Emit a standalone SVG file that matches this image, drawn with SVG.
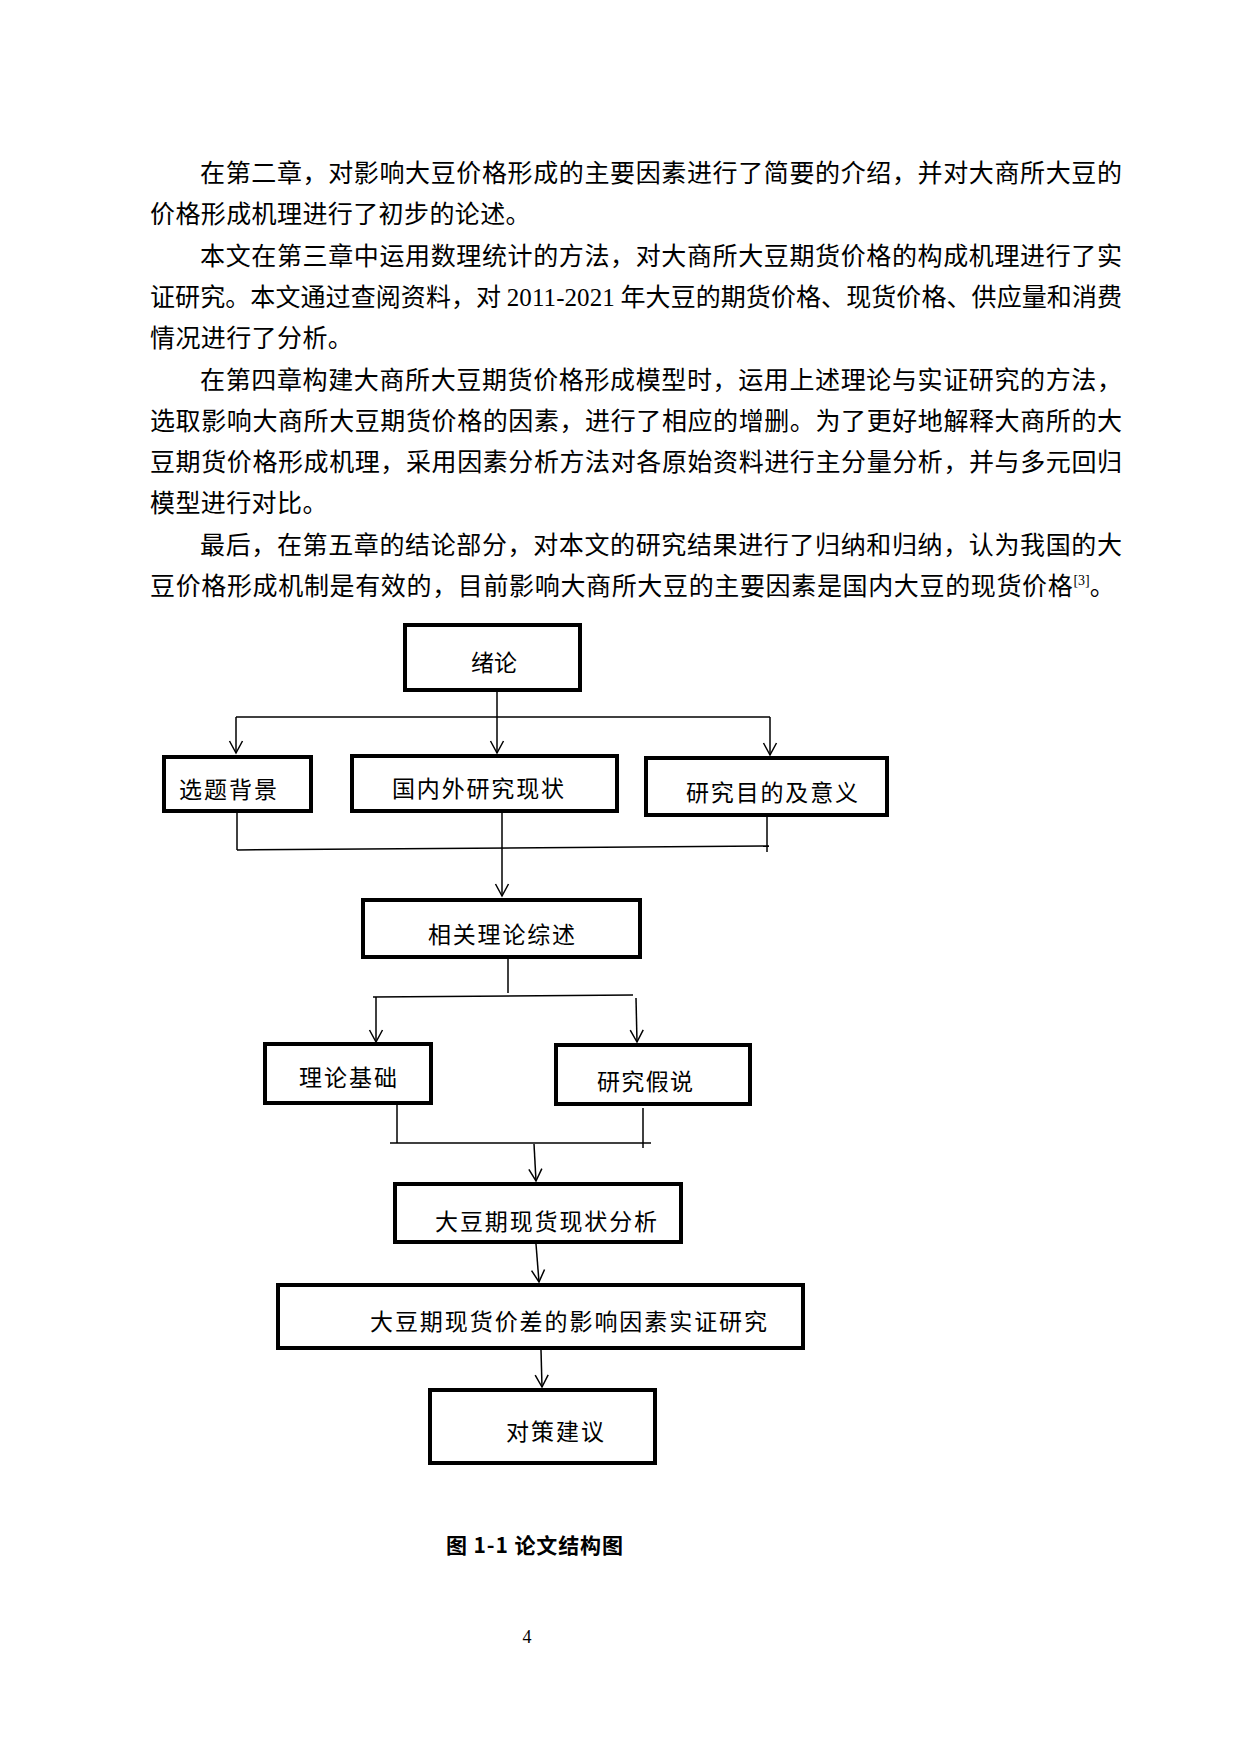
<svg xmlns="http://www.w3.org/2000/svg" width="1240" height="1754" viewBox="0 0 1240 1754">
<style>
.body{font-family:"Liberation Serif","Noto Sans CJK SC",serif;font-size:25px;fill:#000}
.cjk{font-family:"Noto Sans CJK SC","Liberation Serif",serif}
.lat{font-family:"Liberation Serif",serif}
.lbl{font-family:"Noto Sans CJK SC","Liberation Sans",sans-serif;font-size:23px;fill:#000}
.box{fill:#fff;stroke:#000;stroke-width:4}
.conn line,.conn path{stroke:#000;stroke-width:1.5;fill:none}
.cap{font-family:"Noto Sans CJK SC","Liberation Sans",sans-serif;font-size:21px;font-weight:bold;fill:#000}
.pg{font-family:"Liberation Serif",serif;font-size:18px;fill:#000}
</style>
<defs>
<marker id="arr" viewBox="-14 -8 16 16" refX="0" refY="0" markerWidth="16" markerHeight="16" markerUnits="userSpaceOnUse" orient="auto">
<path d="M-12,-6.5 L0,0 L-12,6.5" fill="none" stroke="#000" stroke-width="1.5"/>
</marker>
</defs>
<rect width="1240" height="1754" fill="#fff"/>

<g id="body-text" class="body">
<text class="cjk" x="200" y="182" textLength="922" lengthAdjust="spacing">在第二章，对影响大豆价格形成的主要因素进行了简要的介绍，并对大商所大豆的</text>
<text class="cjk" x="150" y="223" letter-spacing="0.4">价格形成机理进行了初步的论述。</text>
<text class="cjk" x="200" y="265" textLength="922" lengthAdjust="spacing">本文在第三章中运用数理统计的方法，对大商所大豆期货价格的构成机理进行了实</text>
<text x="150" y="306" textLength="972" lengthAdjust="spacing"><tspan class="cjk">证研究。本文通过查阅资料，对 </tspan><tspan class="lat">2011-2021</tspan><tspan class="cjk"> 年大豆的期货价格、现货价格、供应量和消费</tspan></text>
<text class="cjk" x="150" y="347" letter-spacing="0.4">情况进行了分析。</text>
<text class="cjk" x="200" y="389" textLength="922" lengthAdjust="spacing">在第四章构建大商所大豆期货价格形成模型时，运用上述理论与实证研究的方法，</text>
<text class="cjk" x="150" y="430" textLength="972" lengthAdjust="spacing">选取影响大商所大豆期货价格的因素，进行了相应的增删。为了更好地解释大商所的大</text>
<text class="cjk" x="150" y="471" textLength="972" lengthAdjust="spacing">豆期货价格形成机理，采用因素分析方法对各原始资料进行主分量分析，并与多元回归</text>
<text class="cjk" x="150" y="512" letter-spacing="0.4">模型进行对比。</text>
<text class="cjk" x="200" y="554" textLength="922" lengthAdjust="spacing">最后，在第五章的结论部分，对本文的研究结果进行了归纳和归纳，认为我国的大</text>
<text x="150" y="595"><tspan class="cjk" letter-spacing="0.65">豆价格形成机制是有效的，目前影响大商所大豆的主要因素是国内大豆的现货价格</tspan><tspan class="lat" font-size="14" dy="-10">[3]</tspan><tspan class="cjk" dy="10">。</tspan></text>
</g>

<g id="connectors" class="conn">
<line x1="497" y1="692" x2="497" y2="753" marker-end="url(#arr)"/>
<line x1="236" y1="717" x2="770" y2="717"/>
<line x1="236" y1="717" x2="236" y2="753" marker-end="url(#arr)"/>
<line x1="770" y1="717" x2="770" y2="755" marker-end="url(#arr)"/>
<line x1="237" y1="813" x2="237" y2="850"/>
<line x1="767" y1="817" x2="767" y2="852"/>
<line x1="237" y1="850" x2="769" y2="846"/>
<line x1="502" y1="813" x2="502" y2="896" marker-end="url(#arr)"/>
<line x1="508" y1="959" x2="508" y2="993"/>
<line x1="373" y1="997" x2="633" y2="995"/>
<line x1="376" y1="997" x2="376" y2="1042" marker-end="url(#arr)"/>
<line x1="636" y1="998" x2="637" y2="1042" marker-end="url(#arr)"/>
<line x1="397" y1="1105" x2="397" y2="1143"/>
<line x1="643" y1="1108" x2="643" y2="1148"/>
<line x1="390" y1="1143" x2="651" y2="1143"/>
<line x1="534" y1="1144" x2="536" y2="1181" marker-end="url(#arr)"/>
<line x1="536" y1="1244" x2="539" y2="1282" marker-end="url(#arr)"/>
<line x1="541" y1="1350" x2="542" y2="1387" marker-end="url(#arr)"/>
</g>

<g id="n-xulun">
<rect class="box" x="405" y="625" width="175" height="65"/>
<text class="lbl" x="471" y="671" textLength="46" lengthAdjust="spacing">绪论</text>
</g>
<g id="n-beijing">
<rect class="box" x="164" y="757" width="147" height="54"/>
<text class="lbl" x="179" y="798" textLength="98" lengthAdjust="spacing">选题背景</text>
</g>
<g id="n-xianzhuang">
<rect class="box" x="352" y="756" width="265" height="55"/>
<text class="lbl" x="392" y="797" textLength="172" lengthAdjust="spacing">国内外研究现状</text>
</g>
<g id="n-mudi">
<rect class="box" x="646" y="758" width="241" height="57"/>
<text class="lbl" x="686" y="801" textLength="172" lengthAdjust="spacing">研究目的及意义</text>
</g>
<g id="n-zongshu">
<rect class="box" x="363" y="900" width="277" height="57"/>
<text class="lbl" x="428" y="943" textLength="147" lengthAdjust="spacing">相关理论综述</text>
</g>
<g id="n-jichu">
<rect class="box" x="265" y="1044" width="166" height="59"/>
<text class="lbl" x="299" y="1086" textLength="98" lengthAdjust="spacing">理论基础</text>
</g>
<g id="n-jiashuo">
<rect class="box" x="556" y="1045" width="194" height="59"/>
<text class="lbl" x="597" y="1090" textLength="96" lengthAdjust="spacing">研究假说</text>
</g>
<g id="n-fenxi">
<rect class="box" x="395" y="1184" width="286" height="58"/>
<text class="lbl" x="435" y="1230" textLength="222" lengthAdjust="spacing">大豆期现货现状分析</text>
</g>
<g id="n-shizheng">
<rect class="box" x="278" y="1285" width="525" height="63"/>
<text class="lbl" x="370" y="1330" textLength="397" lengthAdjust="spacing">大豆期现货价差的影响因素实证研究</text>
</g>
<g id="n-jianyi">
<rect class="box" x="430" y="1390" width="225" height="73"/>
<text class="lbl" x="506" y="1440" textLength="98" lengthAdjust="spacing">对策建议</text>
</g>

<g id="caption">
<text class="cap" x="446" y="1553" textLength="177" lengthAdjust="spacing">图 1-1 论文结构图</text>
<text class="pg" x="527" y="1643" text-anchor="middle">4</text>
</g>
</svg>
